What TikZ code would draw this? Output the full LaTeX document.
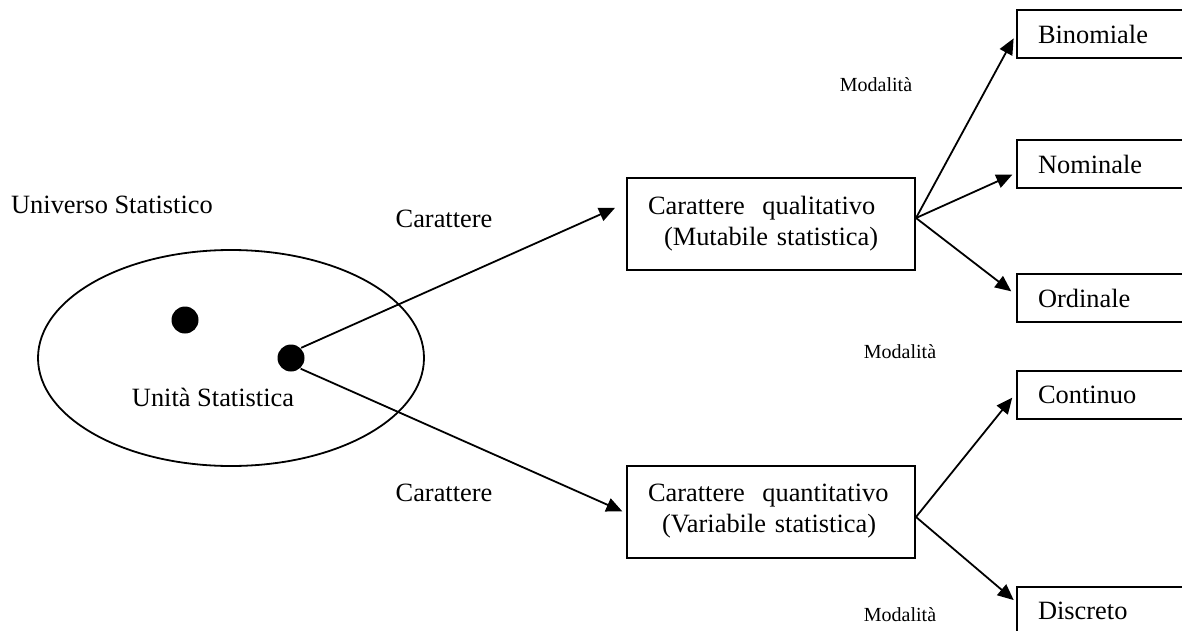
\documentclass[tikz,border=0pt]{standalone}
\usepackage{fontspec}
\setmainfont{Liberation Serif}
\usetikzlibrary{arrows.meta}
\begin{document}
\begin{tikzpicture}[x=0.5pt,y=-0.5pt,line width=0.9pt,
    every node/.style={font=\fontsize{13.2}{15.5}\selectfont},
    small/.style={font=\fontsize{10}{12}\selectfont},
    carbox/.style={draw,line width=1pt,minimum height=46pt,text width=123pt,inner xsep=10.5pt,align=left},
    modbox/.style={draw,line width=1pt,anchor=west,minimum height=24pt,text width=90pt,inner xsep=10.5pt,align=left},
    dot/.style={circle,fill,inner sep=0pt,minimum size=13.5pt},
    arr/.style={-{Triangle[length=8pt,width=7pt]}}]
      \useasboundingbox (0,0) rectangle (1182,631);
      \clip (0,0) rectangle (1182,631);

      \node (univ) at (112, 205){Universo Statistico};
      \draw (231, 358) ellipse [x radius=96.5pt, y radius=54pt];
      \node[dot] (dotA) at (185, 320){};
      \node[dot] (dotB) at (291, 358){};
      \node (unita) at (213, 397){Unità Statistica};

      \node (carA) at (444, 219){Carattere};
      \node (carB) at (444, 493){Carattere};

      \node[carbox] (qual) at (771, 224){Carattere\ \ qualitativo\\\hspace*{8pt}(Mutabile statistica)};
      \node[carbox] (quant) at (771, 511.5){Carattere\ \ quantitativo\\\hspace*{7pt}(Variabile statistica)};

      \node[modbox] (bin) at (1016, 34){Binomiale};
      \node[modbox] (nom) at (1016, 164){Nominale};
      \node[modbox] (ord) at (1016, 298){Ordinale};
      \node[modbox] (con) at (1016, 395){Continuo};
      \node[modbox] (dis) at (1016, 611){Discreto};

      \node[small] (modA) at (876, 85){Modalità};
      \node[small] (modB) at (900, 352){Modalità};
      \node[small] (modC) at (900, 615){Modalità};

      \draw[arr,shorten >=6pt] (dotB.45) -- ([yshift=10.5pt]qual.west);
      \draw[arr,shorten >=2pt] (dotB.-48) -- ([yshift=-0.75pt]quant.west);

      \draw[arr,shorten >=2.5pt] ([yshift=3pt]qual.east) -- (bin.west);
      \draw[arr,shorten >=2pt] ([yshift=3pt]qual.east) -- ([yshift=-4.5pt]nom.west);
      \draw[arr,shorten >=3pt] ([yshift=3pt]qual.east) -- ([yshift=1.5pt]ord.west);
      \draw[arr,shorten >=3pt] ([yshift=-2.75pt]quant.east) -- ([yshift=1pt]con.west);
      \draw[arr,shorten >=1.5pt] ([yshift=-2.75pt]quant.east) -- ([yshift=4.5pt]dis.west);
    \end{tikzpicture}
\end{document}
